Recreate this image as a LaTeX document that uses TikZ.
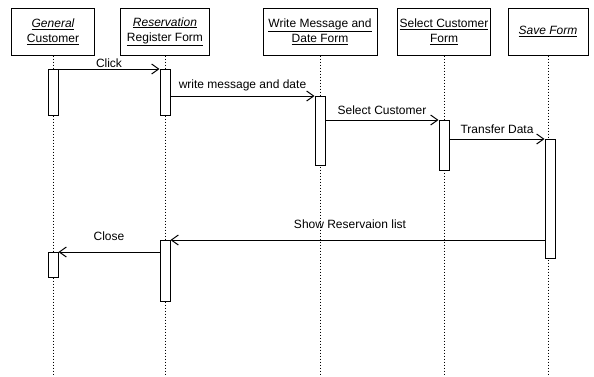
\documentclass[tikz,border=0pt]{standalone}
\usepackage{fontspec}
\setmainfont{Liberation Sans}
\usetikzlibrary{arrows.meta}
\begin{document}
\begin{tikzpicture}[x=1pt,y=-1pt,
  font=\fontsize{12}{15}\selectfont,
  objbox/.style={draw,line width=1pt,minimum height=47pt,align=center,inner sep=1pt},
  life/.style={line width=0.6pt,dash pattern=on 1.5pt off 1.5pt},
  actbar/.style={draw,fill=white,line width=1pt,minimum width=10pt,inner sep=0pt,anchor=north},
  msg/.style={line width=1pt,-{Straight Barb[length=7pt,width=10pt]}},
  lbl/.style={inner sep=1pt}]
  \useasboundingbox (0,0) rectangle (594,376);
  % objects
  \node[objbox,minimum width=83pt] (cust) at (53,31.5) {\underline{\itshape General}\\\underline{Customer}};
  \node[objbox,minimum width=89pt] (resv) at (165,31.5) {\underline{\itshape Reservation}\\\underline{Register Form}};
  \node[objbox,minimum width=114pt] (wmsg) at (320,31.5) {\underline{Write Message and}\\\underline{Date Form}};
  \node[objbox,minimum width=93pt] (selc) at (444,31.5) {\underline{Select Customer}\\\underline{Form}};
  \node[objbox,minimum width=80pt] (save) at (548,31.5) {\underline{\itshape Save Form}};
  % lifelines
  \foreach \o in {cust,resv,wmsg,selc,save}
    \draw[life] (\o.south) -- (\o.south |- 0,376);
  % activations
  \node[actbar,minimum height=46pt] (ca1) at (53,69) {};
  \node[actbar,minimum height=46pt] (ra1) at (165,69) {};
  \node[actbar,minimum height=69pt] (wa) at (320,96) {};
  \node[actbar,minimum height=50pt] (sa) at (444,120) {};
  \node[actbar,minimum height=119pt] (va) at (550,139) {};
  \node[actbar,minimum height=61pt] (ra2) at (165,240) {};
  \node[actbar,minimum height=25pt] (ca2) at (53,252) {};
  % messages
  \draw[msg] (ca1.north east) -- node[lbl,above] {Click} (ra1.north west);
  \draw[msg] (ra1.east |- wa.north) -- node[lbl,above=4pt] {write message and date} (wa.north west);
  \draw[msg] (wa.east |- sa.north) -- node[lbl,above=4pt] {Select Customer} (sa.north west);
  \draw[msg] (sa.east |- va.north) -- node[lbl,above=4pt] {Transfer Data} (va.north west);
  \draw[msg] (va.west |- ra2.north) -- node[lbl,above=10pt,pos=0.52] {Show Reservaion list} (ra2.north east);
  \draw[msg] (ra2.west |- ca2.north) -- node[lbl,above=10pt] {Close} (ca2.north east);
\end{tikzpicture}
\end{document}
